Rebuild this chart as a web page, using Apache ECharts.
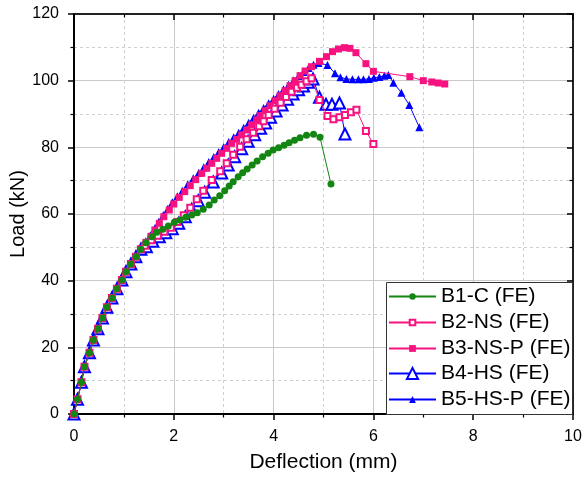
<!DOCTYPE html>
<html><head><meta charset="utf-8">
<script src="https://cdn.jsdelivr.net/npm/echarts@6/dist/echarts.min.js"></script>
<style>html,body{margin:0;padding:0;background:#fff}#c{width:582px;height:478px}</style>
</head><body><div id="c"></div>
<script>
// Shared initial rise
const riseCommon = [[0,0],[0.07,4.4],[0.15,9.5],[0.21,14.2],[0.31,18.4],[0.39,22.2],[0.48,25.6],[0.57,28.8],[0.66,32],[0.76,34.8],[0.86,37.6],[0.96,40.2],[1.04,42.7],[1.14,45],[1.24,47.2],[1.34,49.4]];

const b1Tail = [[1.44,51.4],[1.56,53.2],[1.66,54.5],[1.78,55.4],[1.89,56.4],[2.01,57.5],[2.12,58.2],[2.24,59],[2.36,59.7],[2.47,60.4],[2.59,61.4],[2.71,62.7],[2.81,64.2],[2.92,65.5],[3.02,67],[3.11,68.4],[3.19,69.7],[3.29,71.2],[3.38,72.4],[3.47,73.5],[3.57,74.7],[3.67,75.9],[3.78,77.2],[3.89,78.2],[3.99,79.2],[4.10,79.9],[4.21,80.6],[4.31,81.4],[4.42,82.1],[4.53,82.9],[4.66,83.6],[4.80,83.9],[4.93,83.0],[5.15,69]];

const b2Tail = [[1.42,50.5],[1.55,52.1],[1.68,53.5],[1.81,54.7],[1.94,55.9],[2.07,57.6],[2.20,59.6],[2.33,61.9],[2.46,64.4],[2.59,67.0],[2.76,70.2],[2.93,72.8],[3.06,75.2],[3.19,77.8],[3.33,80.2],[3.46,82.4],[3.59,84.4],[3.71,86.3],[3.80,87.8],[3.90,89.7],[4.02,91.6],[4.14,93.4],[4.25,95.1],[4.36,96.7],[4.47,97.9],[4.56,98.8],[4.66,99.8],[4.76,100.7],[4.92,94.2],[5.08,89.4],[5.20,88.4],[5.32,89.0],[5.43,89.7],[5.55,90.5],[5.66,91.3],[5.85,84.9],[6.0,81.0]];

const b3Tail = [[1.44,51.5],[1.54,53.3],[1.62,55.2],[1.71,57.2],[1.80,59.2],[1.91,61.2],[2.0,63],[2.11,65],[2.22,66.7],[2.33,68.5],[2.44,70.3],[2.56,72.2],[2.66,73.7],[2.76,75.2],[2.86,76.7],[2.96,78.2],[3.06,79.7],[3.16,81.2],[3.26,82.4],[3.36,83.7],[3.46,85.2],[3.56,86.7],[3.66,88.2],[3.73,89.5],[3.83,91.0],[3.93,92.5],[4.03,94],[4.13,95.5],[4.23,97],[4.33,98.5],[4.43,100],[4.53,101.5],[4.63,102.9],[4.76,104.2],[4.92,105.8],[5.06,107.2],[5.18,108.7],[5.30,109.5],[5.42,109.9],[5.53,109.7],[5.65,108.4],[5.85,105.1],[6.0,102.8],[6.73,101.2],[7.0,100],[7.17,99.6],[7.30,99.3],[7.43,99.0]];

const b4Tail = [[1.45,50.2],[1.58,51.8],[1.71,53.2],[1.84,54.4],[1.97,55.6],[2.10,57.2],[2.23,59.2],[2.36,61.4],[2.49,64],[2.62,66.5],[2.79,69.6],[2.96,72.3],[3.09,74.7],[3.22,77.2],[3.36,79.6],[3.49,81.8],[3.62,83.8],[3.74,85.7],[3.84,87.3],[3.94,89],[4.05,90.9],[4.17,92.7],[4.28,94.4],[4.39,96],[4.50,97.3],[4.60,98.4],[4.70,99.5],[4.79,100.5],[4.92,95],[5.05,92.9],[5.17,92.9],[5.32,93.3],[5.43,84]];

const b5Tail = [[1.44,51.8],[1.53,53.6],[1.62,55.7],[1.70,57.7],[1.79,59.7],[1.88,61.6],[1.97,63.5],[2.07,65.3],[2.17,67],[2.28,68.9],[2.39,70.7],[2.50,72.4],[2.60,74],[2.70,75.6],[2.80,77.1],[2.90,78.6],[3.00,80.1],[3.10,81.6],[3.20,83],[3.30,84.4],[3.40,85.9],[3.50,87.4],[3.60,88.9],[3.70,90.4],[3.80,91.8],[3.90,93.2],[4.00,94.6],[4.10,96],[4.20,97.4],[4.30,98.8],[4.40,100.1],[4.50,101.4],[4.60,102.6],[4.70,103.8],[4.80,104.8],[4.90,105.3],[5.08,104.7],[5.23,102.2],[5.34,101.0],[5.46,100.5],[5.58,100.4],[5.70,100.4],[5.80,100.4],[5.91,100.5],[6.01,100.9],[6.12,101.1],[6.22,101.5],[6.30,101.7],[6.40,99.4],[6.56,96.4],[6.72,92.7],[6.92,86.0]];

const seriesNames = ['B1-C (FE)','B2-NS (FE)','B3-NS-P (FE)','B4-HS (FE)','B5-HS-P (FE)'];
const xTicks = {min:0, max:10, interval:2};
const yTicks = {min:0, max:120, interval:20};

const FONT = '"Liberation Sans", Arial, sans-serif';
const GREEN = '#138513', PINK = '#f7137f', BLUE = '#0000ff';

const chart = echarts.init(document.getElementById('c'), null, {renderer:'canvas'});

function mainAxis(extra){
  return Object.assign({
    type:'value',
    nameMoveOverlap:false,
    axisLine:{show:true, onZero:false, lineStyle:{color:'#000', width:2}},
    axisTick:{show:true, inside:false, length:6, lineStyle:{color:'#000', width:1.5}},
    minorTick:{show:true, splitNumber:2, length:3.5, lineStyle:{color:'#000', width:1.2}},
    axisLabel:{show:true, fontSize:16, color:'#000', fontFamily:FONT, margin:15},
    splitLine:{show:true, lineStyle:{color:'#c9c9c9', width:1}},
    minorSplitLine:{show:true, lineStyle:{color:'#cfcfcf', width:1, type:[3,3]}}
  }, extra);
}
function mirrorAxis(extra){
  return Object.assign({
    type:'value',
    axisLine:{show:true, onZero:false, lineStyle:{color:'#222', width:2}},
    axisTick:{show:true, inside:true, length:6, lineStyle:{color:'#000', width:1.5}},
    minorTick:{show:true, splitNumber:2, length:3.5, lineStyle:{color:'#000', width:1.2}},
    axisLabel:{show:false},
    splitLine:{show:false}
  }, extra);
}

// legend box frame + one legend per row (so each row keeps its own marker size)
const legendRows = [297, 323, 349, 374, 400];
const legendIconH = [8, 7, 8.5, 14, 8.5];
const legends = seriesNames.map((n, i) => ({
  orient:'vertical', left:388, top:legendRows[i] - 11,
  itemWidth:47, itemHeight:legendIconH[i], itemGap:0, padding:0, z:30,
  textStyle:{fontSize:21, color:'#000', fontFamily:FONT},
  data:[n]
}));

const option = {
  animation:false,
  backgroundColor:'#fff',
  grid:{left:74, right:9, top:14, bottom:64, containLabel:false, outerBoundsMode:'none'},
  graphic:[{type:'rect', left:386, top:282, z:25, shape:{width:186, height:132},
    style:{fill:'#fff', stroke:'#333', lineWidth:1}}],
  xAxis:[
    mainAxis(Object.assign({position:'bottom', name:'Deflection (mm)', nameLocation:'middle', nameGap:38,
      nameTextStyle:{fontSize:21, color:'#000', fontFamily:FONT}}, xTicks)),
    mirrorAxis(Object.assign({position:'top'}, xTicks))
  ],
  yAxis:[
    mainAxis(Object.assign({position:'left', name:'Load (kN)', nameLocation:'middle', nameGap:46,
      nameTextStyle:{fontSize:20, color:'#000', fontFamily:FONT}}, yTicks)),
    mirrorAxis(Object.assign({position:'right'}, yTicks))
  ],
  legend:legends,
  series:[
    {name:seriesNames[0], type:'line', data:riseCommon.concat(b1Tail), symbol:'circle', symbolSize:7, showAllSymbol:true,
      itemStyle:{color:GREEN}, lineStyle:{color:GREEN, width:1}, z:7},
    {name:seriesNames[1], type:'line', data:riseCommon.concat(b2Tail), symbol:'emptyRect', symbolSize:6, showAllSymbol:true,
      itemStyle:{color:PINK, borderWidth:1.2}, lineStyle:{color:PINK, width:1}, z:6},
    {name:seriesNames[2], type:'line', data:riseCommon.concat(b3Tail), symbol:'rect', symbolSize:7, showAllSymbol:true,
      itemStyle:{color:PINK}, lineStyle:{color:PINK, width:1}, z:5},
    {name:seriesNames[3], type:'line', data:riseCommon.concat(b4Tail), symbol:'emptyTriangle', symbolSize:11, showAllSymbol:true,
      itemStyle:{color:BLUE, borderWidth:1.3}, lineStyle:{color:BLUE, width:1}, z:4},
    {name:seriesNames[4], type:'line', data:riseCommon.concat(b5Tail), symbol:'triangle', symbolSize:8, showAllSymbol:true,
      itemStyle:{color:BLUE}, lineStyle:{color:BLUE, width:1}, z:3}
  ]
};
chart.setOption(option);
</script>
</body></html>
